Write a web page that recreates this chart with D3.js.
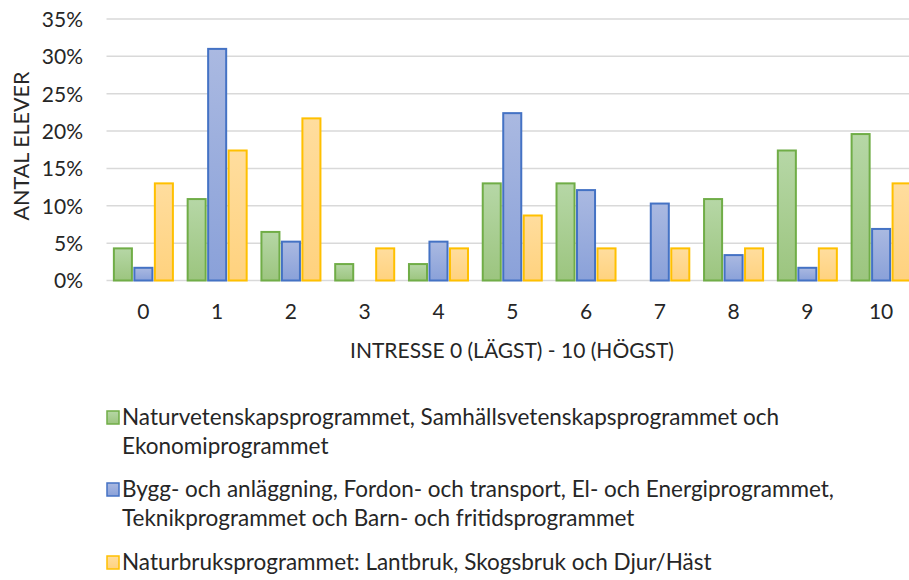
<!DOCTYPE html>
<html>
<head>
<meta charset="utf-8">
<script src="https://cdn.jsdelivr.net/npm/d3@7"></script>
<style>
  body { margin: 0; background: #fff; }
  text { font-family: Lato, "Open Sans", sans-serif; fill: #262626; }
</style>
</head>
<body>
<div id="chart"></div>
<script>
// interest level 0..10
const categories = ["0", "1", "2", "3", "4", "5", "6", "7", "8", "9", "10"];
const seriesNames = [
  "Naturvetenskapsprogrammet, Samhällsvetenskapsprogrammet och|Ekonomiprogrammet",
  "Bygg- och anläggning, Fordon- och transport, El- och Energiprogrammet,|Teknikprogrammet och Barn- och fritidsprogrammet",
  "Naturbruksprogrammet: Lantbruk, Skogsbruk och Djur/Häst"
];
const natEk = [0.043, 0.109, 0.065, 0.022, 0.022, 0.130, 0.130, 0, 0.109, 0.174, 0.196];
const yrkes = [0.017, 0.310, 0.052, 0, 0.052, 0.224, 0.121, 0.103, 0.034, 0.017, 0.069];
const naturbruk = [0.130, 0.174, 0.217, 0.043, 0.043, 0.087, 0.043, 0.043, 0.043, 0.043, 0.130];
const yTicks = [0, 0.05, 0.10, 0.15, 0.20, 0.25, 0.30, 0.35];

const colors = [
  {stroke: "#70ad47", top: "#b6d7a6", bottom: "#9cc57f"},
  {stroke: "#4472c4", top: "#aab9e1", bottom: "#8aa1d9"},
  {stroke: "#ffc000", top: "#ffdd9e", bottom: "#ffd27e"}
];
const allSeries = [natEk, yrkes, naturbruk];

const width = 909, height = 580;
const svg = d3.select("#chart").append("svg")
    .attr("width", width)
    .attr("height", height);

// gradients like the office fill
const defs = svg.append("defs");
colors.forEach((c, i) => {
  const g = defs.append("linearGradient")
      .attr("id", "grad" + i)
      .attr("x1", 0).attr("y1", 0).attr("x2", 0).attr("y2", 1);
  g.append("stop").attr("offset", "0%").attr("stop-color", c.top);
  g.append("stop").attr("offset", "100%").attr("stop-color", c.bottom);
});

const x0 = d3.scaleBand()
    .domain(categories)
    .range([106.5, 918])
    .paddingInner(0.2)
    .paddingOuter(0.1);
const x1 = d3.scaleBand()
    .domain([0, 1, 2])
    .range([0, x0.bandwidth()])
    .paddingInner(0.12);
const y = d3.scaleLinear()
    .domain([0, 0.35])
    .range([280.5, 19]);

// grid lines
svg.append("g")
  .selectAll("line")
  .data(yTicks)
  .join("line")
    .attr("x1", 106.5)
    .attr("x2", width)
    .attr("y1", d => y(d))
    .attr("y2", d => y(d))
    .attr("stroke", "#d9d9d9")
    .attr("stroke-width", 1.5);

// y axis
const yAxis = svg.append("g")
    .attr("transform", "translate(92,0)")
    .call(d3.axisLeft(y).tickValues(yTicks).tickFormat(d3.format(".0%")).tickSize(0).tickPadding(9));
yAxis.select(".domain").remove();
yAxis.selectAll("text").attr("font-size", 21).attr("font-family", null).attr("dy", "0.35em");

// x axis
const xAxis = svg.append("g")
    .attr("transform", "translate(0,319)")
    .call(d3.axisBottom(x0).tickSize(0).tickPadding(0));
xAxis.select(".domain").remove();
xAxis.selectAll("text").attr("font-size", 21).attr("font-family", null).attr("dy", 0);

// bars
allSeries.forEach((vals, s) => {
  svg.append("g")
    .selectAll("rect")
    .data(vals.map((v, i) => ({cat: categories[i], v: v})).filter(d => d.v > 0))
    .join("rect")
      .attr("x", d => x0(d.cat) + x1(s))
      .attr("y", d => y(d.v))
      .attr("width", x1.bandwidth())
      .attr("height", d => y(0) - y(d.v))
      .attr("fill", "url(#grad" + s + ")")
      .attr("stroke", colors[s].stroke)
      .attr("stroke-width", 2);
});

// axis titles
svg.append("text")
    .attr("x", 512)
    .attr("y", 358)
    .attr("text-anchor", "middle")
    .attr("font-size", 21)
    .text("INTRESSE 0 (LÄGST) - 10 (HÖGST)");
svg.append("text")
    .attr("transform", "translate(29,146) rotate(-90)")
    .attr("text-anchor", "middle")
    .attr("font-size", 21.5)
    .text("ANTAL ELEVER");

// legend
const legendY = [425, 497, 570];
seriesNames.forEach((name, i) => {
  const g = svg.append("g").attr("transform", "translate(0," + legendY[i] + ")");
  g.append("rect")
      .attr("x", 107).attr("y", -14)
      .attr("width", 12).attr("height", 13)
      .attr("fill", "url(#grad" + i + ")")
      .attr("stroke", colors[i].stroke)
      .attr("stroke-width", 1.5);
  name.split("|").forEach((line, j) => {
    g.append("text")
        .attr("x", 122)
        .attr("y", j * 29)
        .attr("font-size", 22.5)
        .text(line);
  });
});
</script>
</body>
</html>
